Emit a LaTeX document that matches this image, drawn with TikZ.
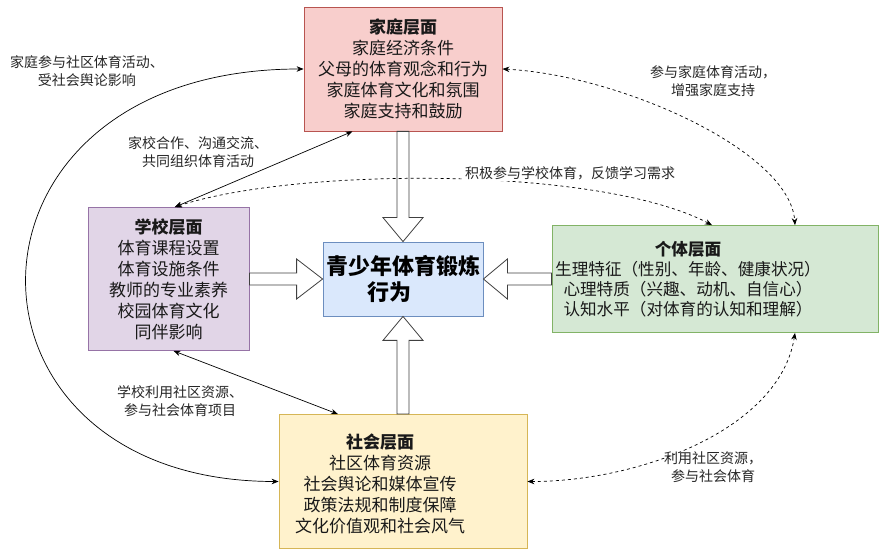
\documentclass[tikz,border=0pt]{standalone}
\usepackage{fontspec}
\newfontfamily\cjk{Noto Sans CJK SC}
\usetikzlibrary{positioning,calc,arrows.meta}
\definecolor{famfill}{HTML}{F8CECC}
\definecolor{famdraw}{HTML}{B85450}
\definecolor{schfill}{HTML}{E1D5E7}
\definecolor{schdraw}{HTML}{9673A6}
\definecolor{behfill}{HTML}{DAE8FC}
\definecolor{behdraw}{HTML}{6C8EBF}
\definecolor{indfill}{HTML}{D5E8D4}
\definecolor{inddraw}{HTML}{82B366}
\definecolor{socfill}{HTML}{FFF2CC}
\definecolor{socdraw}{HTML}{D6B656}
\begin{document}
\begin{tikzpicture}[x=1pt, y=1pt, >={Stealth[length=7pt,width=5.5pt]}, block/.style={rectangle, draw, line width=0.8pt, inner sep=1pt}, boxtext/.style={align=center, text=black!90, font={\cjk\fontsize{17pt}{21pt}\selectfont}}, linklabel/.style={align=center, text=black!85, font={\cjk\fontsize{14pt}{18pt}\selectfont}}, link/.style={<->, line width=0.7pt}, dlink/.style={<->, line width=0.7pt, dash pattern=on 3pt off 3pt}, fatarrow/.style={draw=black!75, fill=white, line width=0.8pt}]
  \useasboundingbox (0,0) rectangle (879,549);

  \node[block, fill=behfill, draw=behdraw, minimum width=160pt, minimum height=74pt, align=center, font={\cjk\bfseries\fontsize{22pt}{26pt}\selectfont}] (behaviour) at (403,270) {青少年体育锻炼\\行为\hspace*{28pt}};
  \node[block, boxtext, fill=famfill, draw=famdraw, minimum width=198pt, minimum height=124pt, above of=behaviour, node distance=210pt] (family) {\textbf{家庭层面}\\家庭经济条件\\父母的体育观念和行为\\家庭体育文化和氛围\\家庭支持和鼓励};
  \node[block, boxtext, fill=schfill, draw=schdraw, minimum width=161pt, minimum height=143pt, left of=behaviour, node distance=234.5pt] (school) {\textbf{学校层面}\\体育课程设置\\体育设施条件\\教师的专业素养\\校园体育文化\\同伴影响};
  \node[block, fill=indfill, draw=inddraw, minimum width=326pt, minimum height=107pt, right of=behaviour, node distance=312pt] (individual) {};
  \node[boxtext, font={\cjk\fontsize{16.6pt}{20pt}\selectfont}] (indtext) at ($(individual.center)+(-27,0)$) {\textbf{个体层面}\\生理特征（性别、年龄、健康状况）\\心理特质（兴趣、动机、自信心）\\认知水平（对体育的认知和理解）};
  \node[block, fill=socfill, draw=socdraw, minimum width=248pt, minimum height=134pt, below of=behaviour, node distance=202.5pt] (society) {};
  \node[boxtext] (soctext) at ($(society.center)+(-23,-2)$) {\textbf{社会层面}\\社区体育资源\\社会舆论和媒体宣传\\政策法规和制度保障\\文化价值观和社会风气};

  % hollow arrows into the centre
  \draw[fatarrow] ($(family.south)+(-6,0)$) -- ($(behaviour.north)+(-6,24)$) -- ($(behaviour.north)+(-20,24)$) -- (behaviour.north) -- ($(behaviour.north)+(20,24)$) -- ($(behaviour.north)+(6,24)$) -- ($(family.south)+(6,0)$) -- cycle;
  \draw[fatarrow] ($(society.north)+(-6,0)$) -- ($(behaviour.south)+(-6,-24)$) -- ($(behaviour.south)+(-20,-24)$) -- (behaviour.south) -- ($(behaviour.south)+(20,-24)$) -- ($(behaviour.south)+(6,-24)$) -- ($(society.north)+(6,0)$) -- cycle;
  \draw[fatarrow] ($(school.east)+(0,6)$) -- ($(behaviour.west)+(-26,6)$) -- ($(behaviour.west)+(-26,20)$) -- (behaviour.west) -- ($(behaviour.west)+(-26,-20)$) -- ($(behaviour.west)+(-26,-6)$) -- ($(school.east)+(0,-6)$) -- cycle;
  \draw[fatarrow] ($(individual.west)+(0,6)$) -- ($(behaviour.east)+(24,6)$) -- ($(behaviour.east)+(24,20)$) -- (behaviour.east) -- ($(behaviour.east)+(24,-20)$) -- ($(behaviour.east)+(24,-6)$) -- ($(individual.west)+(0,-6)$) -- cycle;

  % links between the levels
  \draw[link] (family.west) .. controls +(-365,0) and +(-340,0) .. (society.west);
  \draw[link] (school.85) -- (family.231);
  \draw[link] (school.-86) -- (society.134);
  \draw[dlink] (school.85) .. controls +(122,40) and +(-112,59) .. ($(individual.north)+(-3,0)$);
  \draw[dlink] (family.east) .. controls +(118,-6) and +(-5,74) .. ($(individual.north)+(80,0)$);
  \draw[dlink] ($(individual.south)+(80,0)$) .. controls +(-15,-96) and +(113,0) .. (society.east);

  \node[linklabel] (lblfamsoc) at (87,478) {家庭参与社区体育活动、\\受社会舆论影响};
  \node[linklabel] (lblfamsch) at (198,396.5) {家校合作、沟通交流、\\共同组织体育活动};
  \node[linklabel, fill=white, inner sep=1pt] (lblschind) at (570,376) {积极参与学校体育，反馈学习需求};
  \node[linklabel] (lblfamind) at (713,468) {参与家庭体育活动，\\增强家庭支持};
  \node[linklabel] (lblschsoc) at (180,147.5) {学校利用社区资源、\\参与社会体育项目};
  \node[linklabel] (lblindsoc) at (713,81.5) {利用社区资源，\\参与社会体育};
\end{tikzpicture}
\end{document}
